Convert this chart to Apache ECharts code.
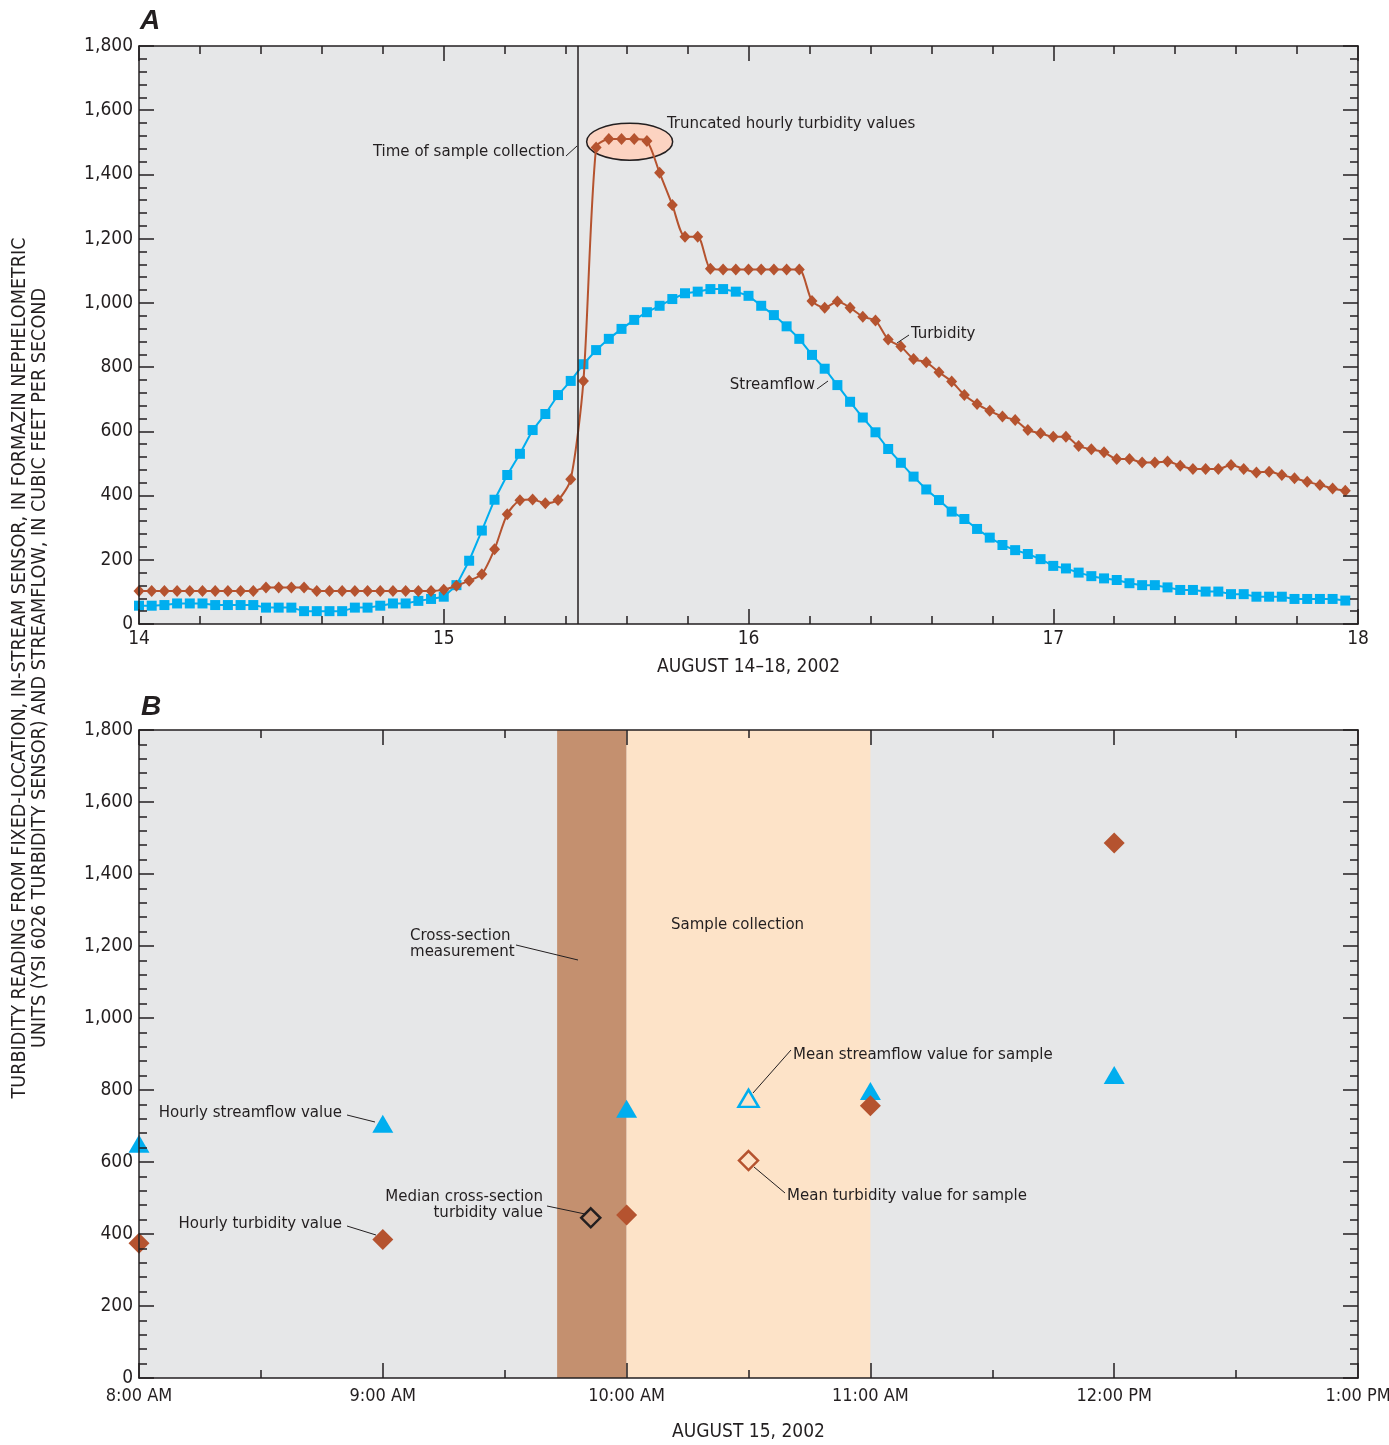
<!DOCTYPE html>
<html>
<head>
<meta charset="utf-8">
<script src="https://cdn.jsdelivr.net/npm/echarts@6/dist/echarts.min.js"></script>
<style>
html,body{margin:0;padding:0;background:#ffffff;}
#chart{width:1389px;height:1445px;}
</style>
</head>
<body>
<div id="chart"></div>
<script>
// ---------------- DATA ----------------
// Panel A: hourly values, August 14 00:00 through August 17 23:00
const startDayA = 14;
const turbidityA = [
  103,103,103,103,103,103,103,103,103,103,114,114,114,114,103,103,103,103,103,103,103,103,103,103,
  107,119,135,155,233,342,385,388,376,386,451,757,1484,1510,1510,1510,1504,1405,1305,1206,1206,1106,1104,1104,
  1104,1104,1104,1104,1104,1006,985,1004,985,957,945,886,864,825,815,784,755,713,685,664,646,635,604,594,
  583,583,554,544,535,514,514,503,503,506,493,483,483,483,495,483,472,474,464,454,443,433,422,415
];
const streamflowA = [
  57,57,59,64,64,64,59,59,59,59,51,51,51,40,40,40,40,51,51,57,64,64,72,78,
  85,121,197,291,387,464,530,604,654,713,757,809,853,888,919,947,971,991,1012,1030,1035,1043,1043,1035,
  1022,991,962,927,888,838,795,744,692,643,597,545,502,459,419,386,350,327,296,269,246,230,218,202,
  181,173,160,149,142,137,127,121,121,114,106,106,101,101,93,93,85,85,85,78,78,78,78,73
];
const sampleTimeA = 15.4375;           // time of sample collection (day)
const truncatedCenterA = [15.61, 1502]; // centre of truncated values group
const dayTicksA = [14, 15, 16, 17, 18];

// Panel B: August 15, hours of day
const hoursB = [8, 9, 10, 11, 12];
const streamflowB = [651, 706, 748, 797, 842];
const turbidityB = [374, 385, 453, 756, 1486];
const medianXsecTurbidityB = [[9.853, 445]];
const meanStreamflowB = [[10.5, 777]];
const meanTurbidityB = [[10.5, 604]];
const crossSectionBand = [9.715, 10];
const sampleBand = [10, 11];
const timeTicksB = [8, 9, 10, 11, 12, 13];
const timeLabelsB = ['8:00 AM', '9:00 AM', '10:00 AM', '11:00 AM', '12:00 PM', '1:00 PM'];

// ---------------- STYLE ----------------
const FONT = "'Liberation Sans Narrow','Arial Narrow','DejaVu Sans Condensed',sans-serif";
const INK = '#231f20';
const BLUE = '#00aeef';
const RUST = '#b5532f';
const PLOTBG = '#e6e7e8';

function axisBase(showLabel) {
  return {
    axisLine: {show: true, onZero: false, lineStyle: {color: INK, width: 1.5}},
    axisTick: {show: true, inside: true, length: 15, lineStyle: {color: INK, width: 1.5}},
    minorTick: {show: true, length: 8, lineStyle: {color: INK, width: 1.5}},
    splitLine: {show: false},
    minorSplitLine: {show: false},
    axisLabel: {show: showLabel, color: INK, fontFamily: FONT, fontSize: 19},
    z: 10
  };
}

function mkAxis(extra, showLabel, minorSplit) {
  const a = axisBase(showLabel);
  a.minorTick.splitNumber = minorSplit;
  return Object.assign(a, extra);
}

const thousands = v => v.toLocaleString('en-US');

const xAxes = [
  mkAxis({gridIndex: 0, type: 'value', position: 'bottom', min: 14, max: 18, interval: 1,
    name: 'AUGUST 14\u201318, 2002', nameLocation: 'middle', nameGap: 34,
    nameTextStyle: {color: INK, fontFamily: FONT, fontSize: 19}}, true, 5),
  mkAxis({gridIndex: 0, type: 'value', position: 'top', min: 14, max: 18, interval: 1}, false, 5),
  mkAxis({gridIndex: 1, type: 'value', position: 'bottom', min: 8, max: 13, interval: 1,
    name: 'AUGUST 15, 2002', nameLocation: 'middle', nameGap: 45,
    nameTextStyle: {color: INK, fontFamily: FONT, fontSize: 19}}, true, 2),
  mkAxis({gridIndex: 1, type: 'value', position: 'top', min: 8, max: 13, interval: 1}, false, 2)
];
xAxes[0].axisLabel.margin = 6;
xAxes[2].axisLabel.margin = 9;
xAxes[2].axisLabel.fontSize = 18;
xAxes[2].axisLabel.formatter = v => timeLabelsB[timeTicksB.indexOf(v)];
xAxes[0].axisLabel.formatter = v => (dayTicksA.indexOf(v) >= 0 ? String(v) : '');

const yAxes = [
  mkAxis({gridIndex: 0, type: 'value', position: 'left', min: 0, max: 1800, interval: 200}, true, 5),
  mkAxis({gridIndex: 0, type: 'value', position: 'right', min: 0, max: 1800, interval: 200}, false, 5),
  mkAxis({gridIndex: 1, type: 'value', position: 'left', min: 0, max: 1800, interval: 200}, true, 5),
  mkAxis({gridIndex: 1, type: 'value', position: 'right', min: 0, max: 1800, interval: 200}, false, 5)
];
yAxes[0].axisLabel.formatter = thousands;
yAxes[2].axisLabel.formatter = thousands;
yAxes[0].axisLabel.margin = 6;
yAxes[2].axisLabel.margin = 6;

const hourlyA = arr => arr.map((v, i) => [startDayA + i / 24, v]);

const option = {
  animation: false,
  backgroundColor: '#ffffff',
  textStyle: {fontFamily: FONT, color: INK},
  grid: [
    {left: 139, top: 46, width: 1219, height: 578, show: true, backgroundColor: PLOTBG, borderWidth: 0, outerBoundsMode: 'none'},
    {left: 139, top: 730, width: 1219, height: 648, show: true, backgroundColor: PLOTBG, borderWidth: 0, outerBoundsMode: 'none'}
  ],
  xAxis: xAxes,
  yAxis: yAxes,
  series: [
    {
      name: 'Streamflow', type: 'line', xAxisIndex: 0, yAxisIndex: 0,
      data: hourlyA(streamflowA),
      symbol: 'rect', symbolSize: 10, showSymbol: true,
      lineStyle: {color: BLUE, width: 2},
      itemStyle: {color: BLUE, opacity: 1},
      z: 3,
      markLine: {
        silent: true, symbol: ['none', 'none'],
        label: {show: false},
        lineStyle: {color: INK, width: 1.5, type: 'solid'},
        data: [{xAxis: sampleTimeA}]
      }
    },
    {
      name: 'Turbidity', type: 'line', xAxisIndex: 0, yAxisIndex: 0,
      data: hourlyA(turbidityA),
      symbol: 'diamond', symbolSize: [11, 12], showSymbol: true,
      smooth: 0.25,
      lineStyle: {color: RUST, width: 2},
      itemStyle: {color: RUST, opacity: 1},
      z: 4
    },
    {
      name: 'Hourly streamflow value', type: 'scatter', xAxisIndex: 2, yAxisIndex: 2,
      data: hoursB.map((h, i) => [h, streamflowB[i]]),
      symbol: 'triangle', symbolSize: [21, 18],
      itemStyle: {color: BLUE, opacity: 1},
      z: 5,
      markArea: {
        silent: true,
        label: {show: false},
        data: [
          [{xAxis: crossSectionBand[0], itemStyle: {color: '#c4906f', opacity: 1}}, {xAxis: crossSectionBand[1]}],
          [{xAxis: sampleBand[0], itemStyle: {color: '#fde3c8', opacity: 1}}, {xAxis: sampleBand[1]}]
        ]
      }
    },
    {
      name: 'Hourly turbidity value', type: 'scatter', xAxisIndex: 2, yAxisIndex: 2,
      data: hoursB.map((h, i) => [h, turbidityB[i]]),
      symbol: 'diamond', symbolSize: 21,
      itemStyle: {color: RUST, opacity: 1},
      z: 5
    },
    {
      name: 'Median cross-section turbidity value', type: 'scatter', xAxisIndex: 2, yAxisIndex: 2,
      data: medianXsecTurbidityB,
      symbol: 'diamond', symbolSize: 19,
      itemStyle: {color: 'rgba(0,0,0,0)', borderColor: INK, borderWidth: 2.5, opacity: 1},
      z: 5
    },
    {
      name: 'Mean streamflow value for sample', type: 'scatter', xAxisIndex: 2, yAxisIndex: 2,
      data: meanStreamflowB,
      symbol: 'triangle', symbolSize: [20, 17],
      itemStyle: {color: 'rgba(0,0,0,0)', borderColor: BLUE, borderWidth: 2.5, opacity: 1},
      z: 5
    },
    {
      name: 'Mean turbidity value for sample', type: 'scatter', xAxisIndex: 2, yAxisIndex: 2,
      data: meanTurbidityB,
      symbol: 'diamond', symbolSize: 19,
      itemStyle: {color: 'rgba(0,0,0,0)', borderColor: RUST, borderWidth: 2.5, opacity: 1},
      z: 5
    }
  ]
};

const chart = echarts.init(document.getElementById('chart'), null, {renderer: 'canvas'});
chart.setOption(option);

// --------- annotations ---------
const ANNOT = '16.7px ' + FONT;
function txt(text, x, y, align, extra) {
  return Object.assign({
    type: 'text', x: x, y: y, z: 100,
    style: {text: text, font: ANNOT, fill: INK, align: align, verticalAlign: 'middle', lineHeight: 16}
  }, extra || {});
}
function leader(x1, y1, x2, y2) {
  return {type: 'line', z: 100, shape: {x1: x1, y1: y1, x2: x2, y2: y2}, style: {stroke: INK, lineWidth: 1}};
}

const ec = chart.convertToPixel({xAxisIndex: 0, yAxisIndex: 0}, truncatedCenterA);

const graphics = [
  // truncated values ellipse (under series)
  {type: 'ellipse', z: 1, shape: {cx: ec[0], cy: ec[1], rx: 43, ry: 18.5},
   style: {fill: '#fcd3c1', stroke: INK, lineWidth: 1.5}},
  // panel letters
  {type: 'text', x: 140, y: 21, z: 100, style: {text: 'A', font: 'italic bold 28px "Liberation Sans", Arial, sans-serif', fill: INK, align: 'left', verticalAlign: 'middle'}},
  {type: 'text', x: 141, y: 707, z: 100, style: {text: 'B', font: 'italic bold 28px "Liberation Sans", Arial, sans-serif', fill: INK, align: 'left', verticalAlign: 'middle'}},
  // y axis title (two lines)
  {type: 'text', x: 20, y: 668, z: 100, rotation: Math.PI / 2,
   style: {text: 'TURBIDITY READING FROM FIXED-LOCATION, IN-STREAM SENSOR, IN FORMAZIN NEPHELOMETRIC', font: '19.6px ' + FONT, fill: INK, align: 'center', verticalAlign: 'middle'}},
  {type: 'text', x: 40, y: 668, z: 100, rotation: Math.PI / 2,
   style: {text: 'UNITS (YSI 6026 TURBIDITY SENSOR) AND STREAMFLOW, IN CUBIC FEET PER SECOND', font: '19.6px ' + FONT, fill: INK, align: 'center', verticalAlign: 'middle'}},
  // panel A annotations
  txt('Time of sample collection', 565, 152, 'right'),
  leader(566, 156, 577, 146),
  txt('Truncated hourly turbidity values', 667, 124, 'left'),
  txt('Turbidity', 911, 334, 'left'),
  leader(897, 343, 909, 335),
  txt('Streamflow', 815, 385, 'right'),
  leader(817, 389, 828, 381),
  // panel B annotations
  txt('Cross-section\nmeasurement', 410, 944, 'left'),
  leader(516, 945, 578, 960),
  txt('Sample collection', 671, 925, 'left'),
  txt('Mean streamflow value for sample', 793, 1055, 'left'),
  leader(791, 1050, 753, 1093),
  txt('Mean turbidity value for sample', 787, 1196, 'left'),
  leader(754, 1167, 785, 1193),
  txt('Hourly streamflow value', 342, 1113, 'right'),
  leader(347, 1115, 375, 1122),
  txt('Hourly turbidity value', 342, 1224, 'right'),
  leader(347, 1226, 376, 1235),
  txt('Median cross-section\nturbidity value', 543, 1205, 'right'),
  leader(547, 1206, 585, 1214)
];

chart.setOption({graphic: {elements: graphics}});
</script>
</body>
</html>
